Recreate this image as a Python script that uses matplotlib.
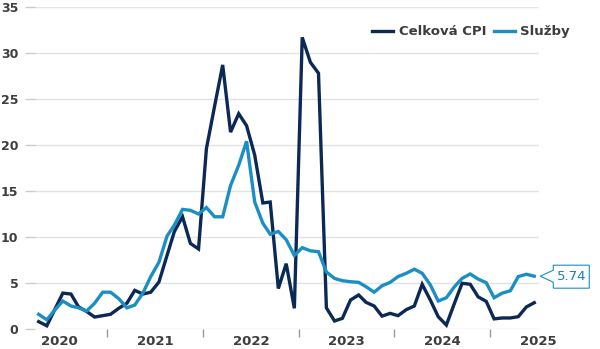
import numpy as np
import pandas as pd
import matplotlib
matplotlib.use("Agg")
import matplotlib.pyplot as plt
import matplotlib.dates as mdates
from matplotlib.patches import Polygon
from matplotlib.transforms import ScaledTranslation

# monthly data, Oct 2019 - Dec 2024
months = pd.date_range("2019-10-01", periods=63, freq="MS") + pd.Timedelta(days=14)

cpi = [0.8, 0.35, 2.1, 3.9, 3.8, 2.4, 1.9, 1.3, 1.45, 1.6,
       2.25, 2.8, 4.2, 3.8, 4.0, 5.1, 8.0, 10.6, 12.2, 9.3,
       8.7, 19.6, 24.2, 28.7, 21.4, 23.4, 22.1, 18.9, 13.7, 13.8,
       4.4, 7.1, 2.25, 31.7, 29.0, 27.8, 2.3, 0.87, 1.16, 3.15,
       3.7, 2.9, 2.5, 1.4, 1.7, 1.45, 2.1, 2.5, 4.86, 3.15,
       1.34, 0.43, 2.8, 4.97, 4.86, 3.5, 3.0, 1.1, 1.2, 1.2,
       1.34, 2.4, 2.86]
sluzby = [1.6, 1.0, 2.05, 3.04, 2.5, 2.3, 1.96, 2.8, 4.0, 4.0,
          3.3, 2.3, 2.6, 3.9, 5.7, 7.25, 10.1, 11.3, 13.0, 12.9,
          12.5, 13.2, 12.2, 12.2, 15.6, 17.8, 20.4, 13.8, 11.5, 10.3,
          10.6, 9.7, 8.0, 8.84, 8.5, 8.4, 6.2, 5.5, 5.25, 5.14,
          5.07, 4.6, 4.0, 4.7, 5.07, 5.7, 6.05, 6.5, 6.05, 4.8,
          3.04, 3.4, 4.6, 5.5, 5.98, 5.43, 5.03, 3.4, 3.9, 4.16,
          5.7, 5.95, 5.74]
series_names = ["Celková CPI", "Služby"]
year_labels = [2020, 2021, 2022, 2023, 2024, 2025]

dark = "#0c2855"
light = "#1b8fc4"
txt = "#3d3d3d"

fig = plt.figure(figsize=(6, 3.49), dpi=100)
ax = fig.add_axes([35/600, 20/349, 504/600, 322/349])

ax.plot(months, cpi, color=dark, lw=2.4, label=series_names[0], solid_joinstyle="miter")
ax.plot(months, sluzby, color=light, lw=2.4, label=series_names[1], solid_joinstyle="miter")

ax.set_ylim(0, 35)
ax.set_xlim(pd.Timestamp("2019-10-01"), pd.Timestamp("2025-01-02"))
ax.set_yticks(np.arange(0, 36, 5))
ax.grid(axis="y", color="#e3e3e3", lw=1)
ax.set_axisbelow(True)
for s in ax.spines.values():
    s.set_visible(False)

ax.set_xticks([pd.Timestamp(f"{y}-01-01") for y in year_labels])
ax.set_xticklabels([str(y) for y in year_labels])
ax.set_xticks([pd.Timestamp(f"{y}-07-01") for y in year_labels[:-1]], minor=True)
ax.tick_params(axis="x", which="major", length=0, pad=4.5, labelsize=9.5, labelcolor=txt)
ax.tick_params(axis="x", which="minor", length=6, width=1, color="#999999")
ax.tick_params(axis="y", length=7, width=1, color="#cccccc", pad=5, labelsize=9, labelcolor=txt)
for lab in ax.get_xticklabels() + ax.get_yticklabels():
    lab.set_fontweight("bold")

fig.legend(loc="center right", bbox_to_anchor=(0.95, 0.909), ncol=2, frameon=False,
           prop={"weight": "bold", "size": 9.5}, labelcolor=txt, handlelength=1.6,
           handletextpad=0.4, columnspacing=0.6, borderpad=0, borderaxespad=0)

# callout with last value
trans = fig.dpi_scale_trans + ScaledTranslation(mdates.date2num(months[-1]), sluzby[-1], ax.transData)
pts = np.array([(6, 0), (19, 6), (19, 11), (55, 11), (55, -12), (19, -12), (19, -6)]) / 100
ax.add_patch(Polygon(pts, closed=True, transform=trans, facecolor="white",
                     edgecolor=light, lw=0.8, clip_on=False, zorder=5))
ax.text(37/100, 0, f"{sluzby[-1]:.2f}", transform=trans, ha="center", va="center",
        color="#1a7fb0", fontsize=9.5, zorder=6, clip_on=False)

fig.savefig("out.png", dpi=100)
